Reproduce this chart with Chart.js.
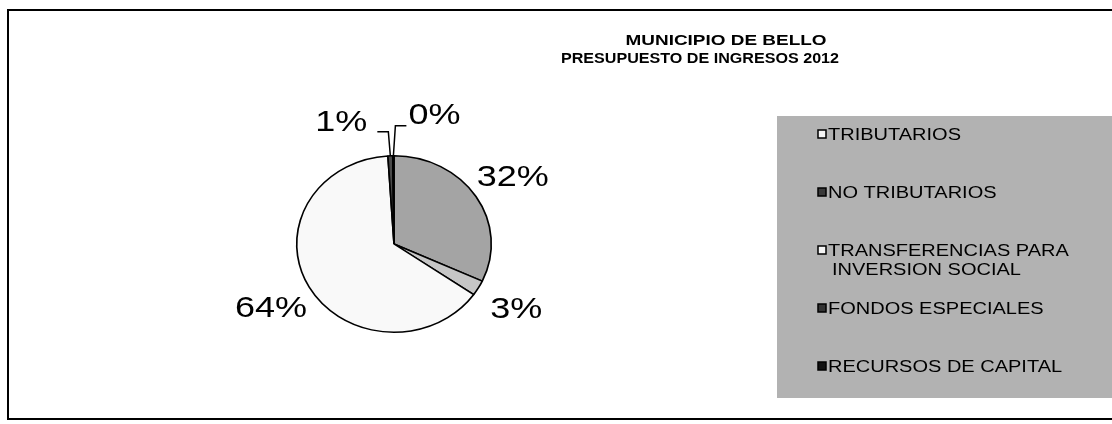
<!DOCTYPE html>
<html>
<head>
<meta charset="utf-8">
<script src="https://cdn.jsdelivr.net/npm/chart.js@4/dist/chart.umd.min.js"></script>
<style>
  html, body { margin: 0; padding: 0; background: #ffffff; }
  #wrap { width: 1112px; height: 424px; position: relative; }
</style>
</head>
<body>
<div id="wrap"><canvas id="c" width="1112" height="424"></canvas></div>
<script>
// ---- data ----
const titleLines = ['MUNICIPIO DE BELLO', 'PRESUPUESTO DE INGRESOS 2012'];
const categories = ['TRIBUTARIOS', 'NO TRIBUTARIOS', 'TRANSFERENCIAS PARA INVERSION SOCIAL', 'FONDOS ESPECIALES', 'RECURSOS DE CAPITAL'];
const legendLines = [['TRIBUTARIOS'], ['NO TRIBUTARIOS'], ['TRANSFERENCIAS PARA', 'INVERSION SOCIAL'], ['FONDOS ESPECIALES'], ['RECURSOS DE CAPITAL']];
const shares = [31.9, 2.8, 64.3, 0.8, 0.2];

// ---- styles ----
const sliceColors = ['#a4a4a4', '#c6c6c6', '#f9f9f9', '#4a4a4a', '#000000'];
const markerFills = ['#f4f4f4', '#3a3a3a', '#f4f4f4', '#333333', '#111111'];
const STRETCH_X = 97 / 88;   // reference pie is slightly elliptical

const total = shares.reduce((a, b) => a + b, 0);
const pctText = v => Math.round(v / total * 100) + '%';

function drawStretchedText(ctx, text, x, y, sx, align) {
  ctx.save();
  ctx.translate(x, y);
  ctx.scale(sx, 1);
  ctx.textAlign = align || 'left';
  ctx.textBaseline = 'alphabetic';
  ctx.fillText(text, 0, 0);
  ctx.restore();
}

const ellipsePlugin = {
  id: 'ellipse',
  beforeDatasetsDraw(chart) {
    const ctx = chart.ctx;
    const arc = chart.getDatasetMeta(0).data[0];
    const cx = arc.x, cy = arc.y;
    ctx.save();
    ctx.translate(cx, cy);
    ctx.scale(STRETCH_X, 1);
    ctx.translate(-cx, -cy);
  },
  afterDatasetsDraw(chart) {
    chart.ctx.restore();
  }
};

const decorPlugin = {
  id: 'decor',
  beforeDraw(chart) {
    const ctx = chart.ctx;
    ctx.save();
    ctx.fillStyle = '#ffffff';
    ctx.fillRect(0, 0, chart.width, chart.height);
    ctx.restore();
  },
  afterDraw(chart) {
    const ctx = chart.ctx;
    ctx.save();

    // outer frame
    ctx.strokeStyle = '#000';
    ctx.lineWidth = 2;
    ctx.strokeRect(8, 10, 1120, 409);

    // title
    ctx.fillStyle = '#000';
    ctx.font = 'bold 14px "Liberation Sans", Arial, sans-serif';
    const tSpecs = [{ cx: 726, base: 45, w: 201 }, { cx: 700, base: 63, w: 278 }];
    titleLines.forEach((t, i) => {
      const m = ctx.measureText(t).width;
      drawStretchedText(ctx, t, tSpecs[i].cx, tSpecs[i].base, tSpecs[i].w / m, 'center');
    });

    // percentage labels
    const meta = chart.getDatasetMeta(0);
    const ds = chart.data.datasets[0].data;
    ctx.font = '30px "Liberation Sans", Arial, sans-serif';
    ctx.fillStyle = '#000';
    ctx.strokeStyle = '#000';
    ctx.lineWidth = 1.5;
    let smallCount = 0;
    meta.data.forEach((arc, i) => {
      const p = arc.getProps(['x', 'y', 'startAngle', 'endAngle', 'outerRadius'], true);
      const mid = (p.startAngle + p.endAngle) / 2;
      const rx = p.outerRadius * STRETCH_X, ry = p.outerRadius;
      const txt = pctText(ds[i]);
      const share = ds[i] / total;
      if (share >= 0.02) {
        const f = 1.45;
        const x = p.x + rx * f * Math.cos(mid);
        const y = p.y + ry * f * Math.sin(mid);
        drawStretchedText(ctx, txt, x, y + 10.7, 1.2, 'center');
      } else {
        const side = smallCount === 0 ? -1 : 1;
        const rise = smallCount === 0 ? 24 : 30;
        smallCount++;
        const sx = p.x + rx * Math.cos(mid);
        const sy = p.y + ry * Math.sin(mid);
        const ex = sx + side * 2, ey = sy - rise;
        const hx = ex + side * 11;
        ctx.beginPath();
        ctx.moveTo(sx, sy);
        ctx.lineTo(ex, ey);
        ctx.lineTo(hx, ey);
        ctx.stroke();
        if (side < 0) {
          drawStretchedText(ctx, txt, hx - 10, ey - 1, 1.2, 'right');
        } else {
          drawStretchedText(ctx, txt, hx + 2, ey - 2, 1.2, 'left');
        }
      }
    });

    // legend box
    ctx.fillStyle = '#b2b2b2';
    ctx.fillRect(777, 116, 340, 282);
    ctx.font = '16px "Liberation Sans", Arial, sans-serif';
    legendLines.forEach((lines, i) => {
      const capC = 134 + 58 * i;
      ctx.fillStyle = markerFills[i];
      ctx.fillRect(818, capC - 4, 8, 8);
      ctx.strokeStyle = '#000';
      ctx.lineWidth = 1.5;
      ctx.strokeRect(818, capC - 4, 8, 8);
      ctx.fillStyle = '#000';
      lines.forEach((ln, j) => {
        drawStretchedText(ctx, ln, j === 0 ? 828 : 832, capC + 5.7 + j * 19, 1.25, 'left');
      });
    });

    ctx.restore();
  }
};

new Chart(document.getElementById('c'), {
  type: 'pie',
  data: {
    labels: categories,
    datasets: [{
      data: shares,
      backgroundColor: sliceColors,
      borderColor: '#000000',
      borderWidth: 1.5
    }]
  },
  options: {
    responsive: false,
    animation: false,
    events: [],
    layout: { padding: { left: 305, right: 629, top: 155, bottom: 91 } },
    plugins: {
      legend: { display: false },
      title: { display: false },
      tooltip: { enabled: false }
    }
  },
  plugins: [ellipsePlugin, decorPlugin]
});
</script>
</body>
</html>
